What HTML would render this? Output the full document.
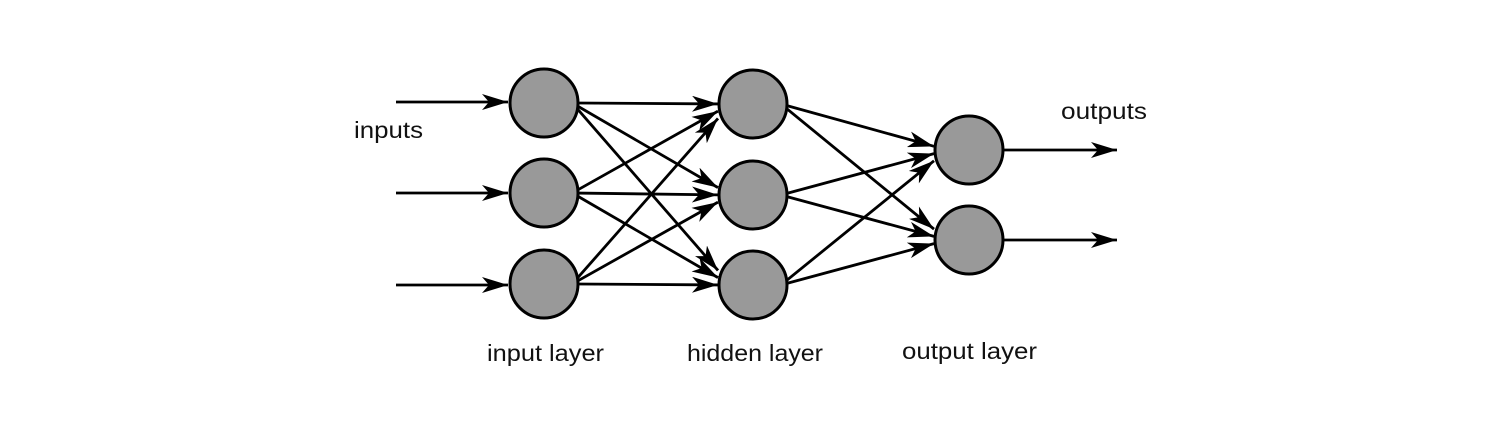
<!DOCTYPE html>
<html><head><meta charset="utf-8"><style>html,body{margin:0;padding:0;background:#fff}svg{display:block}</style></head>
<body>
<svg width="1500" height="436" viewBox="0 0 1500 436" xmlns="http://www.w3.org/2000/svg">
<defs>
<marker id="a" viewBox="0 0 26 16" refX="26" refY="8" markerWidth="26" markerHeight="16" markerUnits="userSpaceOnUse" orient="auto">
<path d="M0,0 L26,8 L0,16 L7,8 Z" fill="#000"/>
</marker>
</defs>
<g stroke="#000" stroke-width="2.8" fill="none" marker-end="url(#a)">
<line x1="396" y1="102" x2="508" y2="102"/>
<line x1="396" y1="193" x2="508" y2="193"/>
<line x1="396" y1="285" x2="508" y2="285"/>
<line x1="1003" y1="150" x2="1117" y2="150"/>
<line x1="1003" y1="240" x2="1117" y2="240"/>
</g>
<g stroke="#000" stroke-width="2.8" fill="none" marker-end="url(#a)" id="conn"></g>
<g fill="#999" stroke="#000" stroke-width="3">
<circle cx="544" cy="103" r="34"/><circle cx="544" cy="193" r="34"/><circle cx="544" cy="284" r="34"/>
<circle cx="753" cy="104" r="34"/><circle cx="753" cy="195" r="34"/><circle cx="753" cy="285" r="34"/>
<circle cx="969" cy="150" r="34"/><circle cx="969" cy="240" r="34"/>
</g>
<g font-family="Liberation Sans, sans-serif" font-size="23" fill="#111">
<text x="354" y="138" textLength="69" lengthAdjust="spacingAndGlyphs">inputs</text>
<text x="1061" y="119" textLength="86" lengthAdjust="spacingAndGlyphs">outputs</text>
<text x="487" y="361" textLength="117" lengthAdjust="spacingAndGlyphs">input layer</text>
<text x="687" y="361" textLength="136" lengthAdjust="spacingAndGlyphs">hidden layer</text>
<text x="902" y="359" textLength="135" lengthAdjust="spacingAndGlyphs">output layer</text>
</g>
<script>
(function(){
var g=document.getElementById('conn');
var A=[[544,103],[544,193],[544,284]],H=[[753,104],[753,195],[753,285]],O=[[969,150],[969,240]];
function link(s,t){var dy=t[1]-s[1];
var l=document.createElementNS('http://www.w3.org/2000/svg','line');
l.setAttribute('x1',s[0]+33);l.setAttribute('y1',s[1]+dy*0.03);
l.setAttribute('x2',t[0]-35);l.setAttribute('y2',t[1]-dy*0.08);g.appendChild(l);}
A.forEach(function(s){H.forEach(function(t){link(s,t);});});
H.forEach(function(s){O.forEach(function(t){link(s,t);});});
})();
</script>
</svg>
</body></html>
